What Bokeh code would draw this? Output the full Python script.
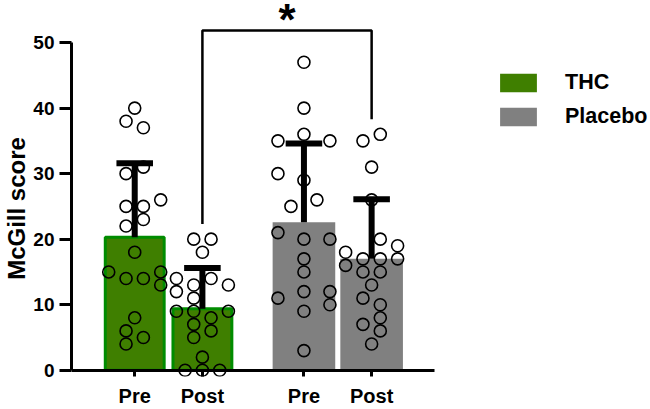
import numpy as np
from bokeh.plotting import figure
from bokeh.models import Range1d, FixedTicker, LinearAxis, Legend, LegendItem
from bokeh.core.properties import value
from bokeh.embed import file_html
from bokeh.resources import INLINE

# bar positions and tick labels
bar_x = [1, 2, 3.5, 4.5]
tick_labels = ["Pre", "Post", "Pre", "Post"]
y_ticks = [0, 10, 20, 30, 40, 50]

# means and mean + SD
bar_means = [20.3, 9.4, 22.6, 17.0]
bar_upper = [31.6, 15.6, 34.6, 26.1]

# individual scores, with the column slot each dot sits in
thc_pre = [40, 38, 37, 31, 30, 26, 25, 25, 23, 22, 18, 15, 15, 14, 14, 13, 8, 6, 5, 4]
thc_pre_slot = [0, -1, 1, 1, -1, 3, -1, 1, 1, -1, 0, -3, 3, -1, 1, 3, 0, -1, 1, -1]
thc_post = [20, 20, 18, 14, 14, 13, 13, 12, 11, 9, 9, 9, 8, 7, 6, 5, 2, 0, 0, 0]
thc_post_slot = [-1, 1, 0, 1, -3, -1, 3, -3, -1, -3, -1, 3, 1, -1, 1, -1, 0, -2, 0, 2]
pla_pre = [47, 40, 36, 35, 35, 30, 29, 26, 25, 21, 20, 20, 17, 15, 12, 11, 12, 10, 9, 3]
pla_pre_slot = [0, 0, 0, -3, 3, -3, 0, 1.5, -1.5, -3, 0, 3, 0, 0, 0, -3, 3, 3, 0, 0]
pla_post = [36, 35, 31, 26, 20, 19, 18, 17, 17, 17, 16, 15, 15, 13, 11, 10, 8, 7, 6, 4]
pla_post_slot = [1, -1, 0, 0, 1, 3, -3, -1, 1, 3, -3, -1, 1, 0, -1, 1, 1, -1, 1, 0]

# significance bracket between THC Post and Placebo Post
bracket_x = [2, 2, 4.5, 4.5]
bracket_y = [22.3, 51.85, 51.85, 38.3]
star_y = 53.5

THC_GREEN = "#3F7F00"
THC_EDGE = "#008C00"
GREY = "#808080"
FONT = "Liberation Sans"

p = figure(width=650, height=409,
           x_range=Range1d(0.066, 8.62), y_range=Range1d(-0.956, 56.42),
           x_axis_location=None, y_axis_location=None,
           min_border_left=70, min_border_right=0, min_border_top=0, min_border_bottom=31,
           output_backend="svg", toolbar_location=None)
p.outline_line_color = None
p.xgrid.visible = False
p.ygrid.visible = False


def style_axis(ax, size):
    ax.axis_line_width = 3
    ax.major_tick_line_width = 3
    ax.major_tick_in = 0
    ax.minor_tick_in = 0
    ax.minor_tick_out = 0
    ax.major_label_text_font = FONT
    ax.major_label_text_font_style = "bold"
    ax.major_label_text_font_size = size
    ax.major_label_text_color = "black"


# x axis line and ticks sit at y = 0
xaxis = LinearAxis(fixed_location=0, bounds=(0.066, 5.435),
                   ticker=FixedTicker(ticks=bar_x))
style_axis(xaxis, "20px")
xaxis.major_tick_out = 11
xaxis.major_label_text_color = None
p.add_layout(xaxis, "below")

# the Pre / Post labels
xlabels = LinearAxis(ticker=FixedTicker(ticks=bar_x),
                     major_label_overrides=dict(zip(bar_x, tick_labels)))
style_axis(xlabels, "20px")
xlabels.axis_line_color = None
xlabels.major_tick_line_color = None
xlabels.major_tick_out = 0
xlabels.major_label_standoff = 8
p.add_layout(xlabels, "below")

# y axis; the title is padded with no-break spaces so it sits centred
# on the 0-50 span instead of on the taller frame
yaxis = LinearAxis(bounds=(0, 50), ticker=FixedTicker(ticks=y_ticks),
                   axis_label="McGill score" + "\u00a0" * 6)
style_axis(yaxis, "19px")
yaxis.major_tick_out = 12
yaxis.major_label_standoff = 5
yaxis.axis_label_text_font = FONT
yaxis.axis_label_text_font_style = "bold"
yaxis.axis_label_text_font_size = "24px"
yaxis.axis_label_text_color = "black"
yaxis.axis_label_standoff = 0
p.add_layout(yaxis, "left")

# bars
r_thc = p.vbar(x=bar_x[:2], top=bar_means[:2], bottom=0, width=0.87,
               fill_color=THC_GREEN, line_color=None)
p.vbar(x=bar_x[:2], top=bar_means[:2], bottom=0, width=0.87,
       fill_color=None, line_color=THC_EDGE, line_width=3)
r_pla = p.vbar(x=bar_x[2:], top=bar_means[2:], bottom=0, width=0.925,
               fill_color=GREY, line_color=None)

# SD bars (upper only)
p.segment(x0=bar_x, y0=bar_means, x1=bar_x, y1=bar_upper,
          line_color="black", line_width=6)
cap = 0.27
p.segment(x0=[x - cap for x in bar_x], y0=bar_upper,
          x1=[x + cap for x in bar_x], y1=bar_upper,
          line_color="black", line_width=6)

# dots
slot_w = 0.128
for x0, vals, slots in [(bar_x[0], thc_pre, thc_pre_slot),
                        (bar_x[1], thc_post, thc_post_slot),
                        (bar_x[2], pla_pre, pla_pre_slot),
                        (bar_x[3], pla_post, pla_post_slot)]:
    xs = x0 + np.array(slots) * slot_w
    p.scatter(x=xs, y=vals, marker="circle", size=12,
              fill_color=None, line_color="black", line_width=1.6)

# bracket and star
p.line(x=bracket_x, y=bracket_y, line_color="black", line_width=2.5)
p.text(x=[(bracket_x[0] + bracket_x[-1]) / 2], y=[star_y], text=["*"],
       text_font=value(FONT), text_font_style="bold", text_font_size="44px",
       text_align="center", text_baseline="alphabetic", text_color="black")

legend = Legend(items=[LegendItem(label="THC", renderers=[r_thc]),
                       LegendItem(label="Placebo", renderers=[r_pla])],
                location=(424, 247))
legend.border_line_color = None
legend.background_fill_color = None
legend.padding = 0
legend.margin = 0
legend.glyph_width = 46
legend.glyph_height = 23
legend.spacing = 9
legend.label_standoff = 24
legend.label_height = 23
legend.label_text_font = FONT
legend.label_text_font_style = "bold"
legend.label_text_font_size = "21.5px"
legend.label_text_color = "black"
p.add_layout(legend)

open("out.html", "w").write(file_html(p, INLINE))
